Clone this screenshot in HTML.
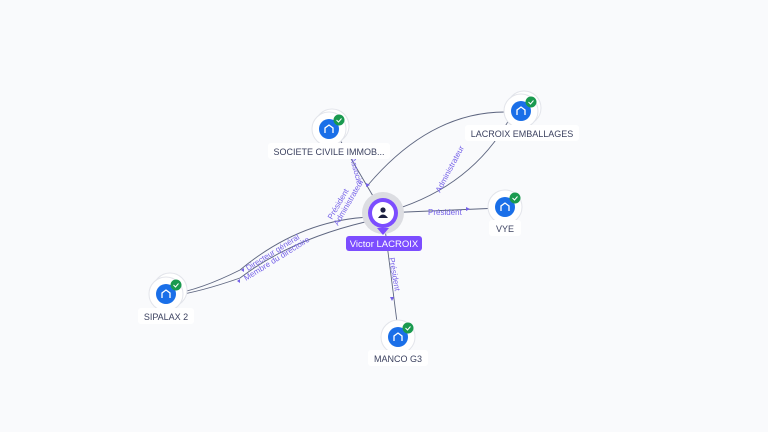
<!DOCTYPE html>
<html><head><meta charset="utf-8"><style>
html,body{margin:0;padding:0;background:#f9fafc;}
svg{display:block;font-family:"Liberation Sans",sans-serif;}
.lbl{font-size:9px;fill:#3c4260;text-anchor:middle;}
.el{font-size:8px;fill:#7561e8;}
</style></head><body>
<svg width="768" height="432" viewBox="0 0 768 432">
<rect width="768" height="432" fill="#f9fafc"/>
<g fill="none" stroke="#5e6680" stroke-width="0.9">
<path d="M383 213 L340 140"/>
<path d="M383 213 Q470 190 510 118"/>
<path d="M505 112 Q430 112 368 185"/>
<path d="M383 213 L500 208"/>
<path d="M383 213 L398 330"/>
<path d="M370 217 Q300 220 240 270 Q200 290 172 294"/>
<path d="M365 222 Q290 240 240 278 Q200 292 172 296"/>
</g>
<g fill="#7561e8">
<path d="M366 183 l4 2 -4 2z"/>
<path d="M466 207 l4 2 -4 2z"/>
<path d="M390 297 l2 4 2 -4z"/>
<path d="M244 268 l-3 2 3 2z"/>
<path d="M240 279 l-3 2 3 2z"/>
</g>
<text class="el" transform="translate(350 158) rotate(75)">Associé</text>
<text class="el" transform="translate(332 220) rotate(-60)">Président</text>
<text class="el" transform="translate(338 226) rotate(-60)">Administrateur</text>
<text class="el" transform="translate(440 193) rotate(-62)">Administrateur</text>
<text class="el" x="428" y="215">Président</text>
<text class="el" transform="translate(389 258) rotate(80)">Président</text>
<text class="el" transform="translate(248 271) rotate(-32)">Directeur général</text>
<text class="el" transform="translate(246 281) rotate(-32)">Membre du directoire</text>
<circle cx="383" cy="213" r="21" fill="#dcdde2"/>
<path d="M383 235 l-6 -7 h12z" fill="#7c4dff"/>
<circle cx="383" cy="213" r="15" fill="#7c4dff"/>
<circle cx="383" cy="213" r="11" fill="#fff"/>
<circle cx="383" cy="210" r="2.6" fill="#1b2040"/>
<path d="M378 218 q5 -7 10 0z" fill="#1b2040"/>
<rect x="346" y="236" width="76" height="15" rx="3" fill="#7c4dff"/>
<text x="384" y="247" font-size="9.5" fill="#fff" text-anchor="middle">Victor LACROIX</text>
<g id="nodes">
<g transform="translate(329 129)"><circle r="17" cx="3" cy="-3" fill="#fff" stroke="#e2e4ea"/><circle r="17" fill="#fff" stroke="#e2e4ea"/><circle r="10" fill="#1a6fe8"/><path d="M-4 4 v-5 l4 -3 4 3 v5" fill="none" stroke="#fff" stroke-width="1.3"/><circle cx="10" cy="-9" r="5.5" fill="#1a9a4f"/><path d="M7.5 -9 l2 2 3 -3.5" stroke="#fff" fill="none" stroke-width="1"/></g>
<rect x="268" y="143" width="122" height="16" rx="3" fill="#fff"/><text class="lbl" x="329" y="155">SOCIETE CIVILE IMMOB...</text>
<g transform="translate(521 111)"><circle r="17" cx="3" cy="-3" fill="#fff" stroke="#e2e4ea"/><circle r="17" fill="#fff" stroke="#e2e4ea"/><circle r="10" fill="#1a6fe8"/><path d="M-4 4 v-5 l4 -3 4 3 v5" fill="none" stroke="#fff" stroke-width="1.3"/><circle cx="10" cy="-9" r="5.5" fill="#1a9a4f"/><path d="M7.5 -9 l2 2 3 -3.5" stroke="#fff" fill="none" stroke-width="1"/></g>
<rect x="465" y="125" width="114" height="16" rx="3" fill="#fff"/><text class="lbl" x="522" y="137">LACROIX EMBALLAGES</text>
<g transform="translate(505 207)"><circle r="17" fill="#fff" stroke="#e2e4ea"/><circle r="10" fill="#1a6fe8"/><path d="M-4 4 v-5 l4 -3 4 3 v5" fill="none" stroke="#fff" stroke-width="1.3"/><circle cx="10" cy="-9" r="5.5" fill="#1a9a4f"/><path d="M7.5 -9 l2 2 3 -3.5" stroke="#fff" fill="none" stroke-width="1"/></g>
<rect x="489" y="220" width="32" height="16" rx="3" fill="#fff"/><text class="lbl" x="505" y="232">VYE</text>
<g transform="translate(166 294)"><circle r="17" cx="4" cy="-4" fill="#fff" stroke="#e2e4ea"/><circle r="17" fill="#fff" stroke="#e2e4ea"/><circle r="10" fill="#1a6fe8"/><path d="M-4 4 v-5 l4 -3 4 3 v5" fill="none" stroke="#fff" stroke-width="1.3"/><circle cx="10" cy="-9" r="5.5" fill="#1a9a4f"/><path d="M7.5 -9 l2 2 3 -3.5" stroke="#fff" fill="none" stroke-width="1"/></g>
<rect x="138" y="308" width="56" height="16" rx="3" fill="#fff"/><text class="lbl" x="166" y="320">SIPALAX 2</text>
<g transform="translate(398 337)"><circle r="17" fill="#fff" stroke="#e2e4ea"/><circle r="10" fill="#1a6fe8"/><path d="M-4 4 v-5 l4 -3 4 3 v5" fill="none" stroke="#fff" stroke-width="1.3"/><circle cx="10" cy="-9" r="5.5" fill="#1a9a4f"/><path d="M7.5 -9 l2 2 3 -3.5" stroke="#fff" fill="none" stroke-width="1"/></g>
<rect x="368" y="350" width="60" height="16" rx="3" fill="#fff"/><text class="lbl" x="398" y="362">MANCO G3</text>
</g>
</svg>
</body></html>
